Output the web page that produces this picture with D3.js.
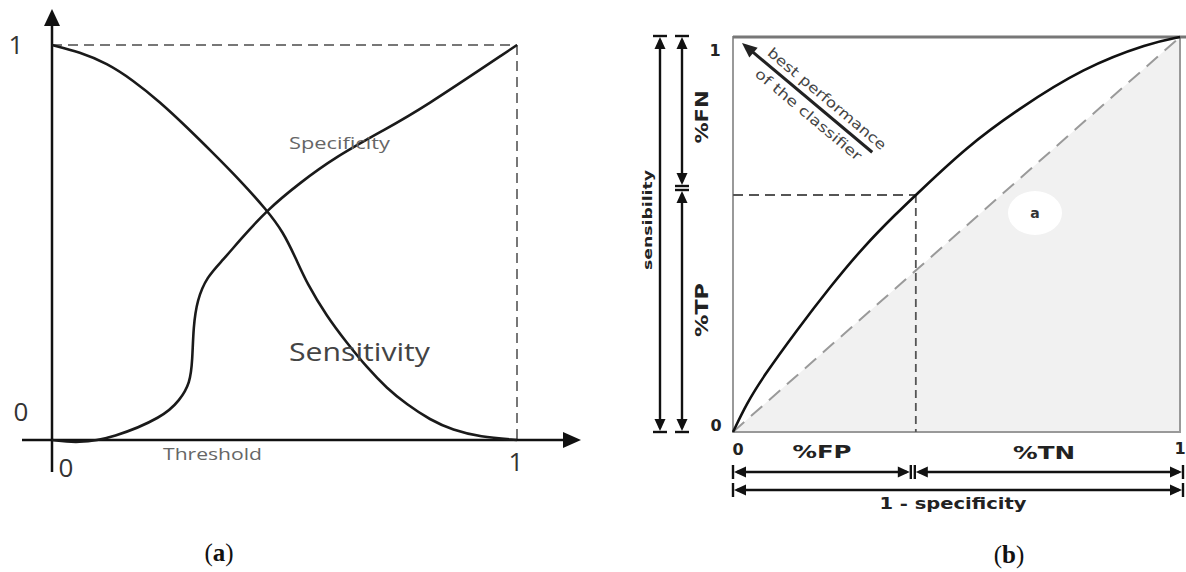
<!DOCTYPE html>
<html><head><meta charset="utf-8">
<script src="https://cdn.jsdelivr.net/npm/d3@7"></script>
<style>body{margin:0;background:#fff}svg{display:block}</style>
</head><body>
<script>
// ---------- Panel (a) data ----------
const thresholdSens = [0, 0.060, 0.118, 0.174, 0.232, 0.290, 0.346, 0.404, 0.462, 0.497, 0.525, 0.548, 0.591, 0.634, 0.677, 0.720, 0.763, 0.813, 0.862, 0.920, 1.0];
const sensitivity   = [1.0, 0.982, 0.954, 0.911, 0.856, 0.792, 0.727, 0.658, 0.582, 0.527, 0.458, 0.397, 0.313, 0.246, 0.184, 0.131, 0.090, 0.051, 0.025, 0.008, 0.0];
const thresholdSpec = [0, 0.056, 0.131, 0.239, 0.275, 0.297, 0.302, 0.304, 0.312, 0.333, 0.368, 0.404, 0.462, 0.533, 0.609, 0.714, 0.791, 1.0];
const specificity   = [0, -0.008, 0.005, 0.058, 0.101, 0.144, 0.203, 0.286, 0.354, 0.413, 0.456, 0.506, 0.582, 0.651, 0.716, 0.785, 0.835, 1.0];
const tickLabelsA = ["0", "1"];

// ---------- Panel (b) data ----------
const fpr = [0, 0.031, 0.067, 0.143, 0.217, 0.291, 0.367, 0.409, 0.523, 0.635, 0.783, 0.933, 1.0];
const tpr = [0, 0.073, 0.139, 0.258, 0.367, 0.468, 0.555, 0.600, 0.722, 0.815, 0.922, 0.985, 1.0];
const operatingFpr = [0.409];
const operatingTpr = [0.600];
const chanceLine = [0, 1];
const tickLabelsB = ["0", "1"];

const W = 1186, H = 572;
const svg = d3.select("body").append("svg").attr("width", W).attr("height", H);
svg.append("rect").attr("width", W).attr("height", H).attr("fill", "#fff");

// ======== Panel (a) ========
const xA = d3.scaleLinear().domain([0, 1]).range([52, 517]);
const yA = d3.scaleLinear().domain([0, 1]).range([440, 45]);
const gA = svg.append("g");
const fontA = "'Open Sans', 'Noto Sans', sans-serif";

// dashed frame
gA.append("line").attr("x1", xA(0)).attr("x2", xA(1)).attr("y1", yA(1)).attr("y2", yA(1))
  .attr("stroke", "#777").attr("stroke-width", 2).attr("stroke-dasharray", "10,6");
gA.append("line").attr("x1", xA(1)).attr("x2", xA(1)).attr("y1", yA(1)).attr("y2", yA(0))
  .attr("stroke", "#777").attr("stroke-width", 2).attr("stroke-dasharray", "10,6");

// axes
gA.append("line").attr("x1", xA(0)).attr("x2", xA(0)).attr("y1", 472).attr("y2", 24)
  .attr("stroke", "#111").attr("stroke-width", 2.5);
gA.append("path").attr("d", `M${xA(0)},9 L${xA(0)-8},26 L${xA(0)+8},26 Z`).attr("fill", "#111");
gA.append("line").attr("x1", 22).attr("x2", 566).attr("y1", yA(0)).attr("y2", yA(0))
  .attr("stroke", "#111").attr("stroke-width", 2.5);
gA.append("path").attr("d", `M581,${yA(0)} L563,${yA(0)-8} L563,${yA(0)+8} Z`).attr("fill", "#111");

// curves
const lineA = d3.line().x(d => xA(d[0])).y(d => yA(d[1])).curve(d3.curveBasis);
gA.append("path").attr("d", lineA(d3.zip(thresholdSens, sensitivity)))
  .attr("fill", "none").attr("stroke", "#1a1a1a").attr("stroke-width", 2.6);
gA.append("path").attr("d", lineA(d3.zip(thresholdSpec, specificity)))
  .attr("fill", "none").attr("stroke", "#1a1a1a").attr("stroke-width", 2.6);

// labels
gA.append("text").attr("x", 16).attr("y", yA(1) + 9).attr("text-anchor", "middle")
  .attr("font-family", fontA).attr("font-size", 26).attr("fill", "#333").text("1");
gA.append("text").attr("x", 21).attr("y", yA(0) - 19).attr("text-anchor", "middle")
  .attr("font-family", fontA).attr("font-size", 26).attr("fill", "#333").text("0");
gA.selectAll("text.tick").data(tickLabelsA).enter().append("text").attr("class", "tick")
  .attr("x", (d, i) => xA(+d) + (i === 0 ? 14 : -1)).attr("y", (d, i) => i === 0 ? 477 : 471)
  .attr("text-anchor", "middle").attr("font-family", fontA).attr("font-size", 26).attr("fill", "#333").text(d => d);
gA.append("text").attr("x", 289).attr("y", 149).attr("font-family", fontA).attr("font-size", 17)
  .attr("fill", "#666").attr("textLength", 101).attr("lengthAdjust", "spacingAndGlyphs").text("Specificity");
gA.append("text").attr("x", 289).attr("y", 361).attr("font-family", fontA).attr("font-size", 26)
  .attr("fill", "#444").attr("textLength", 141).attr("lengthAdjust", "spacingAndGlyphs").text("Sensitivity");
gA.append("text").attr("x", 163).attr("y", 460).attr("font-family", fontA).attr("font-size", 17)
  .attr("fill", "#666").attr("textLength", 99).attr("lengthAdjust", "spacingAndGlyphs").text("Threshold");

// caption (a)
const capA = gA.append("text").attr("x", 219).attr("y", 561).attr("text-anchor", "middle")
  .attr("font-family", "'Liberation Serif', 'DejaVu Serif', serif").attr("font-size", 25).attr("fill", "#111");
capA.append("tspan").text("(");
capA.append("tspan").attr("font-weight", "bold").text("a");
capA.append("tspan").text(")");

// ======== Panel (b) ========
const xB = d3.scaleLinear().domain([0, 1]).range([733, 1180]);
const yB = d3.scaleLinear().domain([0, 1]).range([432, 37]);
const gB = svg.append("g");
const fontB = "'DejaVu Sans', Verdana, sans-serif";

// shaded area under chance line
gB.append("path").attr("d", `M${xB(0)},${yB(0)} L${xB(1)},${yB(1)} L${xB(1)},${yB(0)} Z`).attr("fill", "#f1f1f1");

// frame
gB.append("rect").attr("x", xB(0)).attr("y", yB(1)).attr("width", xB(1) - xB(0)).attr("height", yB(0) - yB(1))
  .attr("fill", "none").attr("stroke", "#999").attr("stroke-width", 2);
gB.append("line").attr("x1", xB(0)).attr("x2", 1186).attr("y1", yB(1)).attr("y2", yB(1))
  .attr("stroke", "#777").attr("stroke-width", 3);

// chance diagonal
gB.append("line").attr("x1", xB(chanceLine[0])).attr("y1", yB(chanceLine[0]))
  .attr("x2", xB(chanceLine[1])).attr("y2", yB(chanceLine[1]))
  .attr("stroke", "#9a9a9a").attr("stroke-width", 2).attr("stroke-dasharray", "15,9");

// operating point guides
gB.append("line").attr("x1", xB(0)).attr("x2", xB(operatingFpr[0])).attr("y1", yB(operatingTpr[0])).attr("y2", yB(operatingTpr[0]))
  .attr("stroke", "#555").attr("stroke-width", 1.8).attr("stroke-dasharray", "10,6");
gB.append("line").attr("x1", xB(operatingFpr[0])).attr("x2", xB(operatingFpr[0])).attr("y1", yB(operatingTpr[0])).attr("y2", yB(0))
  .attr("stroke", "#555").attr("stroke-width", 1.8).attr("stroke-dasharray", "8,5");

// ROC curve
const lineB = d3.line().x(d => xB(d[0])).y(d => yB(d[1])).curve(d3.curveBasis);
gB.append("path").attr("d", lineB(d3.zip(fpr, tpr)))
  .attr("fill", "none").attr("stroke", "#111").attr("stroke-width", 2.6);

// "a" label
gB.append("ellipse").attr("cx", 1035).attr("cy", 213).attr("rx", 27).attr("ry", 22).attr("fill", "#fff");
gB.append("text").attr("x", 1035).attr("y", 218).attr("text-anchor", "middle").attr("font-family", fontB)
  .attr("font-weight", "bold").attr("font-size", 14).attr("fill", "#333").text("a");

// dimension arrows
function vArrow(x, y1, y2) {
  gB.append("line").attr("x1", x).attr("x2", x).attr("y1", y1 + 4).attr("y2", y2 - 4).attr("stroke", "#111").attr("stroke-width", 2.4);
  gB.append("line").attr("x1", x - 7).attr("x2", x + 7).attr("y1", y1).attr("y2", y1).attr("stroke", "#111").attr("stroke-width", 2.4);
  gB.append("line").attr("x1", x - 7).attr("x2", x + 7).attr("y1", y2).attr("y2", y2).attr("stroke", "#111").attr("stroke-width", 2.4);
  gB.append("path").attr("d", `M${x},${y1 + 1} L${x - 5.5},${y1 + 13} L${x + 5.5},${y1 + 13} Z`).attr("fill", "#111");
  gB.append("path").attr("d", `M${x},${y2 - 1} L${x - 5.5},${y2 - 13} L${x + 5.5},${y2 - 13} Z`).attr("fill", "#111");
}
function hArrow(y, x1, x2) {
  gB.append("line").attr("y1", y).attr("y2", y).attr("x1", x1 + 4).attr("x2", x2 - 4).attr("stroke", "#111").attr("stroke-width", 2.4);
  gB.append("line").attr("y1", y - 7).attr("y2", y + 7).attr("x1", x1).attr("x2", x1).attr("stroke", "#111").attr("stroke-width", 2.4);
  gB.append("line").attr("y1", y - 7).attr("y2", y + 7).attr("x1", x2).attr("x2", x2).attr("stroke", "#111").attr("stroke-width", 2.4);
  gB.append("path").attr("d", `M${x1 + 1},${y} L${x1 + 13},${y - 5.5} L${x1 + 13},${y + 5.5} Z`).attr("fill", "#111");
  gB.append("path").attr("d", `M${x2 - 1},${y} L${x2 - 13},${y - 5.5} L${x2 - 13},${y + 5.5} Z`).attr("fill", "#111");
}
const splitY = yB(operatingTpr[0]) - 7;
const splitX = xB(operatingFpr[0]) - 3;
vArrow(660, yB(1) - 1, yB(0));
vArrow(682, yB(1) - 1, splitY - 2);
vArrow(682, splitY + 2, yB(0));
hArrow(472, xB(0), splitX - 2);
hArrow(472, splitX + 2, 1183);
hArrow(490, xB(0), 1183);

// rotated labels
function vText(x, y, txt, size, len) {
  gB.append("text").attr("transform", `translate(${x},${y}) rotate(-90)`).attr("text-anchor", "middle")
    .attr("font-family", fontB).attr("font-weight", "bold").attr("font-size", size).attr("fill", "#222")
    .attr("textLength", len).attr("lengthAdjust", "spacingAndGlyphs").text(txt);
}
vText(652, 220, "sensibility", 13, 100);
vText(708, 117, "%FN", 17, 53);
vText(708, 310, "%TP", 17, 54);

// tick labels
gB.append("text").attr("x", 715).attr("y", 56).attr("text-anchor", "middle").attr("font-family", fontB)
  .attr("font-weight", "bold").attr("font-size", 16).attr("fill", "#222").text(tickLabelsB[1]);
gB.append("text").attr("x", 716).attr("y", 431).attr("text-anchor", "middle").attr("font-family", fontB)
  .attr("font-weight", "bold").attr("font-size", 16).attr("fill", "#222").text(tickLabelsB[0]);
gB.append("text").attr("x", xB(0) + 5).attr("y", 455).attr("text-anchor", "middle").attr("font-family", fontB)
  .attr("font-weight", "bold").attr("font-size", 16).attr("fill", "#222").text(tickLabelsB[0]);
gB.append("text").attr("x", 1180).attr("y", 454).attr("text-anchor", "middle").attr("font-family", fontB)
  .attr("font-weight", "bold").attr("font-size", 16).attr("fill", "#222").text(tickLabelsB[1]);

function hText(x, y, txt, size, len) {
  gB.append("text").attr("x", x).attr("y", y).attr("text-anchor", "middle")
    .attr("font-family", fontB).attr("font-weight", "bold").attr("font-size", size).attr("fill", "#222")
    .attr("textLength", len).attr("lengthAdjust", "spacingAndGlyphs").text(txt);
}
hText(822, 458, "%FP", 17, 59);
hText(1044, 459, "%TN", 17, 62);
hText(953, 509, "1 - specificity", 15, 147);

// best performance arrow
const gArr = gB.append("g").attr("transform", "translate(742,43) rotate(40)");
gArr.append("line").attr("x1", 10).attr("x2", 170).attr("y1", 0).attr("y2", 0).attr("stroke", "#222").attr("stroke-width", 3);
gArr.append("path").attr("d", "M0,0 L15,-6.5 L15,6.5 Z").attr("fill", "#222");
gArr.append("text").attr("x", 101).attr("y", -7).attr("text-anchor", "middle").attr("font-family", fontB)
  .attr("font-size", 14).attr("fill", "#444").attr("textLength", 150).attr("lengthAdjust", "spacingAndGlyphs").text("best performance");
gArr.append("text").attr("x", 97).attr("y", 17).attr("text-anchor", "middle").attr("font-family", fontB)
  .attr("font-size", 14).attr("fill", "#444").attr("textLength", 134).attr("lengthAdjust", "spacingAndGlyphs").text("of the classifier");

// caption (b)
const capB = gB.append("text").attr("x", 1009).attr("y", 563).attr("text-anchor", "middle")
  .attr("font-family", "'Liberation Serif', 'DejaVu Serif', serif").attr("font-size", 25).attr("fill", "#111");
capB.append("tspan").text("(");
capB.append("tspan").attr("font-weight", "bold").text("b");
capB.append("tspan").text(")");
</script>
</body></html>
